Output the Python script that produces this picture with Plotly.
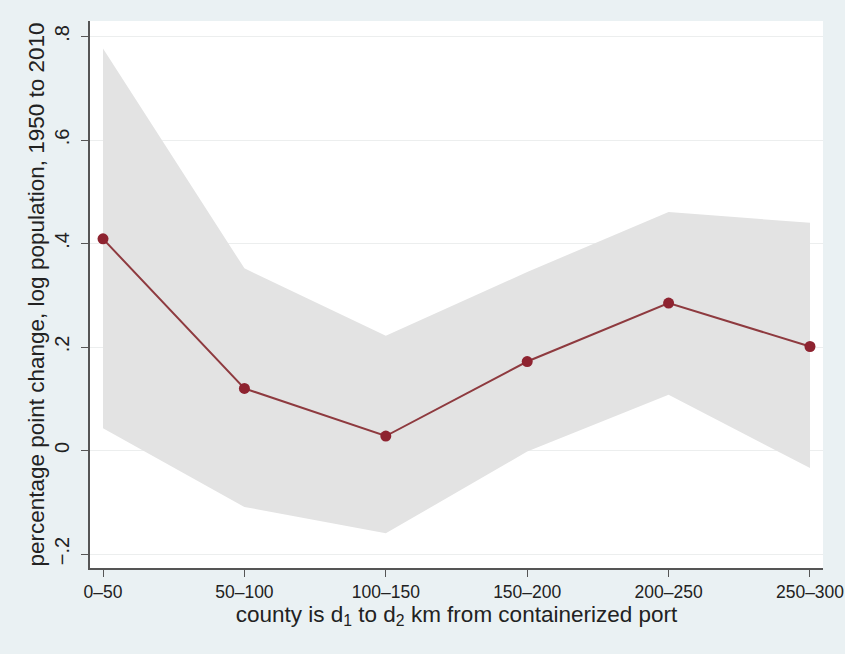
import plotly.graph_objects as go

categories = ["0–50", "50–100", "100–150", "150–200", "200–250", "250–300"]
estimate = [0.409, 0.120, 0.028, 0.172, 0.285, 0.201]
ci_upper = [0.777, 0.352, 0.222, 0.345, 0.461, 0.440]
ci_lower = [0.043, -0.109, -0.160, -0.002, 0.108, -0.034]
ytick_vals = [-0.2, 0, 0.2, 0.4, 0.6, 0.8]
ytick_text = ["−.2", "0", ".2", ".4", ".6", ".8"]

x = list(range(len(categories)))

fig = go.Figure()
fig.add_trace(go.Scatter(x=x, y=ci_upper, mode="lines", line=dict(width=0),
                         hoverinfo="skip", showlegend=False))
fig.add_trace(go.Scatter(x=x, y=ci_lower, mode="lines", line=dict(width=0),
                         fill="tonexty", fillcolor="#E3E3E3",
                         hoverinfo="skip", showlegend=False))
fig.add_trace(go.Scatter(x=x, y=estimate, mode="lines+markers",
                         line=dict(color="#8E3A3F", width=2),
                         marker=dict(color="#8E2330", size=11),
                         showlegend=False))

font = "Liberation Sans, Arial, sans-serif"
fig.update_layout(
    width=845, height=654,
    margin=dict(l=90, r=22, t=21, b=86),
    paper_bgcolor="#EAF1F3",
    plot_bgcolor="#FFFFFF",
    font=dict(family=font, size=16, color="#222222"),
)
fig.update_xaxes(
    range=[-0.092, 5.092],
    tickvals=x, ticktext=categories,
    showgrid=False, zeroline=False, automargin=False,
    showline=True, linecolor="#555555", linewidth=1.5,
    ticks="outside", ticklen=7, tickcolor="#555555", tickwidth=1.2,
    tickfont=dict(size=17.5),
    title=dict(text="county is d<sub>1</sub> to d<sub>2</sub> km from containerized port",
               font=dict(size=22.5), standoff=2),
)
fig.update_yaxes(
    range=[-0.227, 0.830],
    tickvals=ytick_vals, ticktext=ytick_text,
    tickangle=-90, automargin=False, ticklabelstandoff=4,
    showgrid=True, gridcolor="#ECEEEE", gridwidth=1,
    zeroline=False,
    showline=True, linecolor="#555555", linewidth=1.5,
    ticks="outside", ticklen=7, tickcolor="#555555", tickwidth=1.2,
    tickfont=dict(size=20),
    title=dict(text="percentage point change, log population, 1950 to 2010",
               font=dict(size=22.5), standoff=0),
)

fig.write_html("out.html",
               config={"displayModeBar": False},
               post_script="document.body.style.margin='0';document.body.style.overflow='hidden';")
